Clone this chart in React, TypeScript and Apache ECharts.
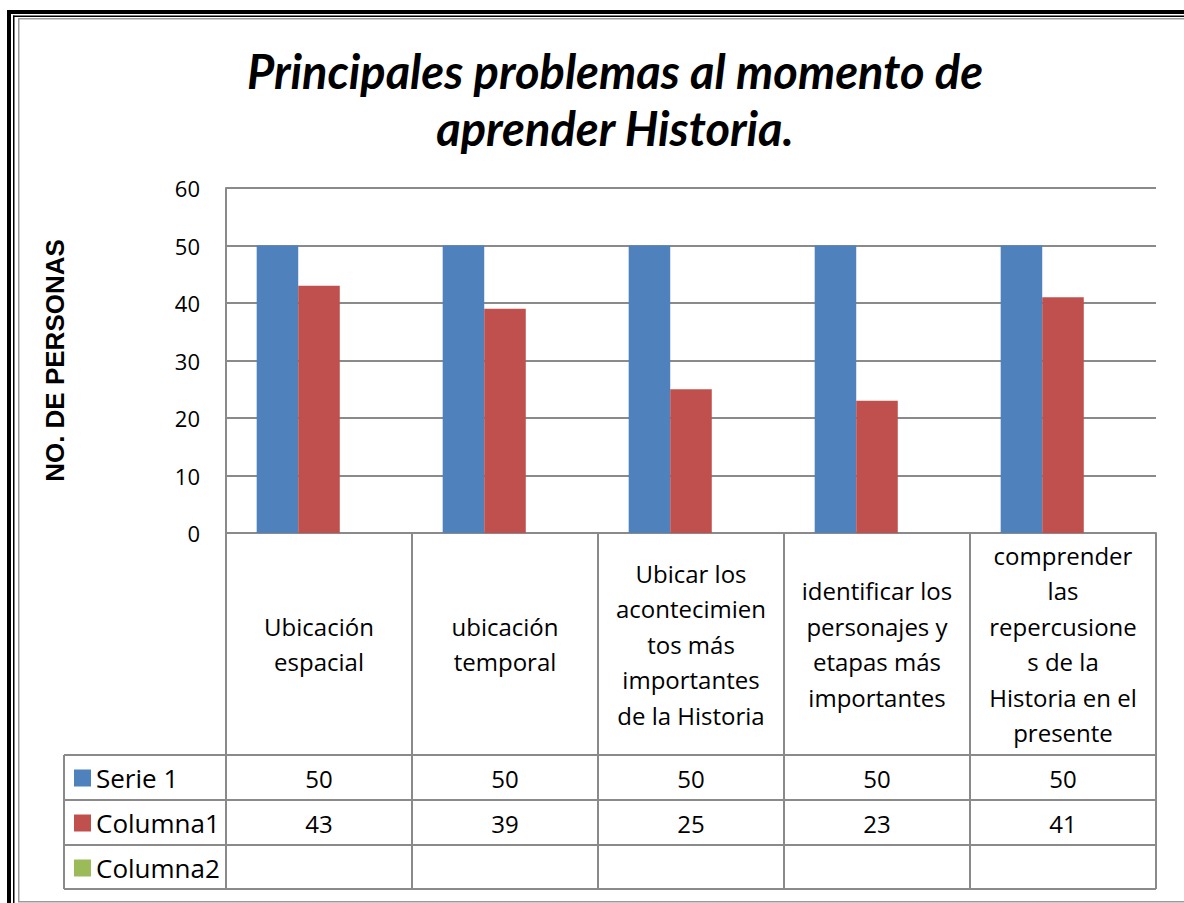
import React, { useEffect, useRef } from "react";
import * as echarts from "echarts";

const categories = [
  "Ubicación\nespacial",
  "ubicación\ntemporal",
  "Ubicar los\nacontecimien\ntos más\nimportantes\nde la Historia",
  "identificar los\npersonajes y\netapas más\nimportantes",
  "comprender\nlas\nrepercusione\ns de la\nHistoria en el\npresente",
];
const seriesNames = ["Serie 1", "Columna1", "Columna2"];
const serie1 = [50, 50, 50, 50, 50];
const columna1 = [43, 39, 25, 23, 41];
const columna2: (number | null)[] = [null, null, null, null, null];
const yTicks = { min: 0, max: 60, interval: 10 };
const titleText = "Principales problemas al momento de\naprender Historia.";
const yName = "NO. DE PERSONAS";

const GRAY = "#8a8a8a";
const FONT = "'Open Sans', sans-serif";

export default function App() {
  const ref = useRef<HTMLDivElement>(null);
  useEffect(() => {
    if (!ref.current) return;
    const chart = echarts.init(ref.current, null, { renderer: "svg" });
    const gl = (x1: number, y1: number, x2: number, y2: number, color = GRAY, w = 2) => ({
      type: "line",
      shape: { x1, y1, x2, y2 },
      style: { stroke: color, lineWidth: w },
      silent: true,
    });
    const rect = (x: number, y: number, width: number, height: number, fill: string) => ({
      type: "rect",
      shape: { x, y, width, height },
      style: { fill },
      silent: true,
    });
    const valueAxis = (data: (number | null)[], offset: number) => ({
      type: "category",
      gridIndex: 0,
      position: "bottom",
      offset,
      data: data.map((v) => (v == null ? "" : String(v))),
      axisLine: { show: false },
      axisTick: { show: false },
      splitLine: { show: false },
      axisLabel: {
        interval: 0,
        margin: 0,
        verticalAlign: "middle",
        fontFamily: FONT,
        fontSize: 24,
        color: "#000",
      },
    });
    chart.setOption({
      animation: false,
      backgroundColor: "#fff",
      color: ["#4F81BD", "#C0504D", "#9BBB59"],
      grid: { left: 226, top: 188, width: 930, height: 345, containLabel: false },
      legend: {
        orient: "vertical",
        left: 74,
        top: 765,
        padding: 0,
        itemGap: 19,
        itemWidth: 17,
        itemHeight: 17,
        icon: "rect",
        selectedMode: false,
        data: seriesNames,
        textStyle: { fontFamily: FONT, fontSize: 26, color: "#000", lineHeight: 26 },
      },
      xAxis: [
        {
          type: "category",
          data: categories,
          axisLine: { show: true, lineStyle: { color: GRAY, width: 2 } },
          axisTick: { show: true, interval: 0, length: 356, lineStyle: { color: GRAY, width: 2 } },
          splitLine: { show: false },
          axisLabel: {
            interval: 0,
            margin: 111,
            verticalAlign: "middle",
            fontFamily: FONT,
            fontSize: 24,
            lineHeight: 35.5,
            color: "#000",
            align: "center",
          },
        },
        valueAxis(serie1, 245),
        valueAxis(columna1, 290),
      ],
      yAxis: {
        type: "value",
        min: yTicks.min,
        max: yTicks.max,
        interval: yTicks.interval,
        name: yName,
        nameLocation: "middle",
        nameRotate: 90,
        nameGap: 158,
        nameTextStyle: {
          fontFamily: "'Liberation Sans', Arial, sans-serif",
          fontWeight: "bold",
          fontSize: 26,
          color: "#000",
        },
        axisLine: { show: true, lineStyle: { color: GRAY, width: 2 } },
        axisTick: { show: false },
        splitLine: { show: true, lineStyle: { color: GRAY, width: 2 } },
        axisLabel: { margin: 26, fontFamily: FONT, fontSize: 22, color: "#000" },
      },
      series: [
        { name: seriesNames[0], type: "bar", data: serie1, barGap: "0%", barCategoryGap: "33%" },
        { name: seriesNames[1], type: "bar", data: columna1, barGap: "0%", barCategoryGap: "33%" },
        { name: seriesNames[2], type: "bar", data: columna2, barGap: "0%", barCategoryGap: "33%" },
      ],
      graphic: [
        {
          type: "text",
          x: 615,
          y: 42,
          silent: true,
          style: {
            text: titleText,
            fontFamily: "Lato, 'Open Sans', sans-serif",
            fontWeight: "bold",
            fontStyle: "italic",
            fontSize: 47,
            lineHeight: 57,
            fill: "#000",
            align: "center",
            verticalAlign: "top",
          },
        },
        // page border
        rect(7, 10, 1177, 4, "#000"),
        rect(7, 10, 4, 893, "#000"),
        rect(13, 15.5, 1171, 1.5, "#000"),
        rect(13, 15.5, 1.5, 887.5, "#000"),
        rect(18, 18, 1166, 1.5, "#999"),
        rect(18, 18, 1.5, 884, "#999"),
        rect(18, 901, 1166, 1.5, "#999"),
        // data table
        gl(64, 755, 1156, 755),
        gl(64, 800, 1156, 800),
        gl(64, 845, 1156, 845),
        gl(64, 889, 1156, 889),
        gl(64, 755, 64, 889),
      ],
    });
    return () => chart.dispose();
  }, []);
  return (
    <div
      ref={ref}
      style={{ position: "absolute", left: 0, top: 0, width: 1184, height: 903 }}
    />
  );
}
